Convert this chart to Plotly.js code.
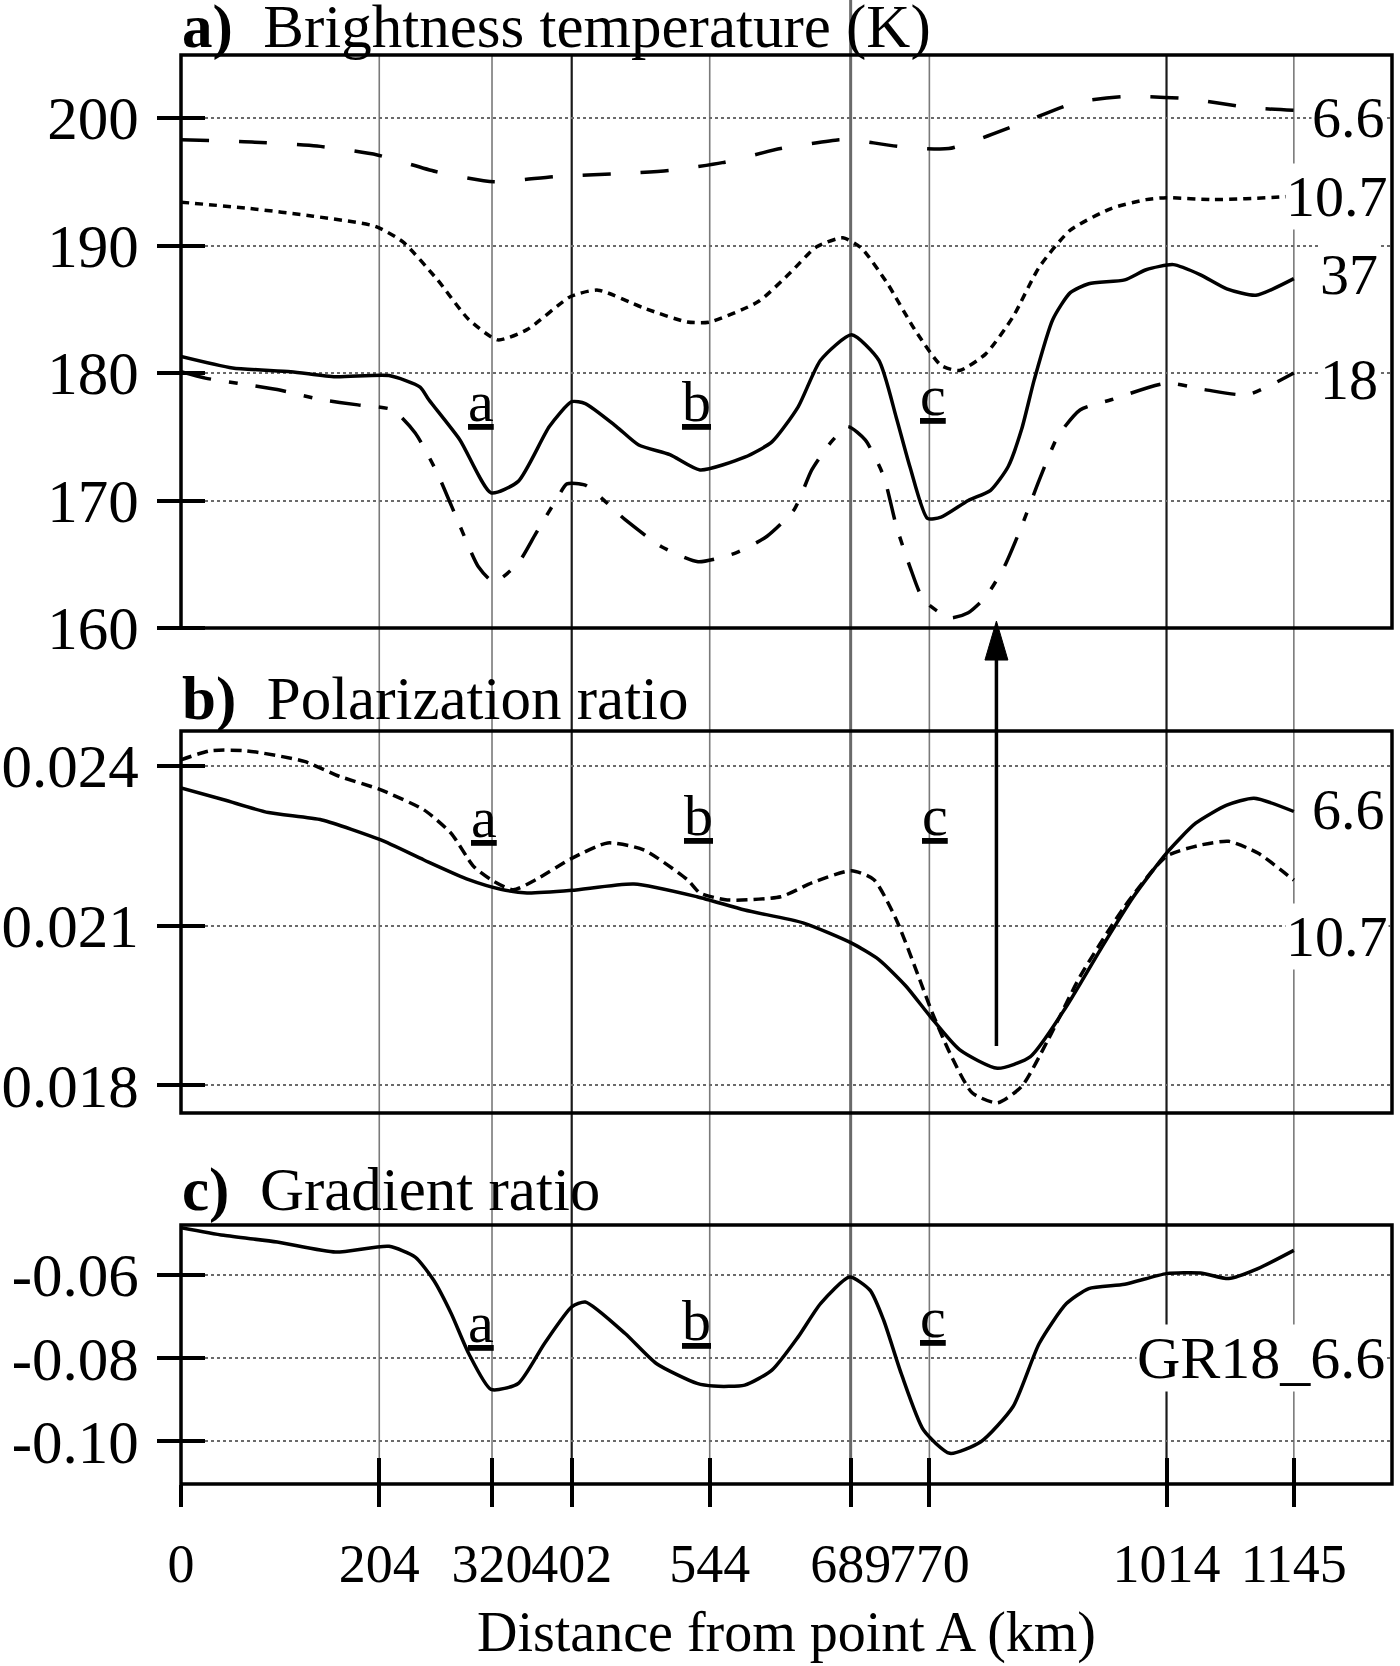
<!DOCTYPE html>
<html>
<head>
<meta charset="utf-8">
<script src="https://cdn.plot.ly/plotly-3.0.1.min.js"></script>
<style>html,body{margin:0;padding:0;background:#fff;}#chart{width:1400px;height:1666px;}</style>
</head>
<body>
<div id="chart"></div>
<script>
// ---------------- DATA ----------------
const KM_TICKS = [0, 204, 320, 402, 544, 689, 770, 1014, 1145];
const KM_TICK_TEXT = ['0', '204', '320', '402', '544', '689', '770', '1014', '1145'];
const MARK_KM = [204, 320, 402, 544, 689, 770, 1014, 1145];

// a) Brightness temperature (K)
const TB66_X = [0, 76, 140, 202, 262, 322, 384, 466, 503, 557, 617, 677, 689, 741, 790, 860, 920, 975, 1037, 1101, 1145];
const TB66 = [198.3, 198.1, 197.8, 197.1, 195.8, 195.0, 195.4, 195.7, 195.9, 196.5, 197.6, 198.3, 198.3, 197.75, 197.6, 199.45, 201.2, 201.7, 201.5, 200.8, 200.6];

const TB107_X = [0, 71, 136, 200, 228, 264, 296, 326, 356, 401, 429, 476, 521, 544, 594, 626, 654, 681, 700, 727, 755, 782, 801, 828, 856, 883, 915, 957, 993, 1014, 1062, 1131, 1145];
const TB107 = [193.4, 192.9, 192.3, 191.5, 190.3, 187.3, 184.2, 182.6, 183.4, 186.0, 186.5, 185.1, 184.0, 184.0, 185.6, 187.8, 189.9, 190.6, 189.8, 187.0, 183.4, 180.6, 180.2, 181.5, 184.4, 188.3, 191.2, 192.9, 193.6, 193.75, 193.6, 193.8, 193.9];

const TB37_X = [0, 53, 113, 159, 214, 246, 255, 287, 319, 347, 379, 402, 416, 448, 471, 503, 534, 580, 608, 635, 658, 690, 718, 736, 750, 768, 782, 810, 833, 851, 865, 878, 897, 915, 934, 971, 993, 1021, 1049, 1076, 1106, 1145];
const TB37 = [181.3, 180.4, 180.1, 179.7, 179.8, 178.9, 177.9, 174.75, 170.6, 171.5, 175.8, 177.75, 177.6, 175.8, 174.35, 173.6, 172.4, 173.4, 174.6, 177.35, 181.0, 183.0, 181.0, 176.5, 172.65, 168.6, 168.7, 170.0, 170.8, 172.65, 175.6, 179.5, 184.2, 186.3, 187.0, 187.3, 188.1, 188.5, 187.7, 186.6, 186.1, 187.4];

const TB18_X = [0, 25, 58, 99, 145, 182, 218, 241, 264, 287, 306, 322, 347, 365, 388, 397, 416, 457, 494, 532, 571, 603, 631, 649, 668, 686, 704, 723, 736, 750, 764, 791, 810, 828, 847, 865, 883, 902, 925, 957, 1014, 1053, 1097, 1145];
const TB18 = [180.1, 179.6, 179.2, 178.7, 177.9, 177.5, 177.1, 175.3, 172.1, 168.0, 164.8, 163.6, 165.1, 167.4, 170.3, 171.3, 171.2, 168.5, 166.4, 165.2, 165.9, 167.2, 169.3, 172.4, 174.5, 175.8, 174.75, 171.9, 168.0, 164.8, 162.2, 160.8, 161.2, 162.45, 164.8, 168.0, 171.6, 175.0, 177.1, 177.9, 179.2, 178.7, 178.3, 180.0];

// b) Polarization ratio
const PR66_X = [0, 44, 90, 145, 205, 250, 296, 329, 356, 402, 466, 531, 580, 640, 690, 718, 746, 771, 801, 840, 874, 911, 948, 980, 1014, 1044, 1076, 1104, 1145];
const PR66 = [0.02358, 0.02336, 0.02312, 0.02298, 0.02261, 0.02223, 0.02186, 0.02168, 0.02161, 0.02166, 0.02178, 0.02154, 0.02129, 0.02105, 0.02067, 0.02036, 0.01986, 0.01929, 0.01867, 0.01832, 0.01854, 0.01948, 0.02061, 0.02154, 0.02236, 0.02292, 0.02326, 0.02339, 0.02314];

const PR107_X = [0, 30, 67, 127, 163, 205, 250, 278, 301, 319, 342, 365, 402, 439, 476, 521, 534, 562, 617, 649, 690, 713, 736, 755, 773, 791, 814, 840, 865, 892, 925, 971, 1014, 1049, 1078, 1108, 1145];
const PR107 = [0.02411, 0.02428, 0.02428, 0.02408, 0.0238, 0.02355, 0.02317, 0.02273, 0.02211, 0.02186, 0.02167, 0.02186, 0.02226, 0.02255, 0.02242, 0.02186, 0.02161, 0.02148, 0.02154, 0.0218, 0.02203, 0.02186, 0.02111, 0.02023, 0.01936, 0.01861, 0.01786, 0.01767, 0.01798, 0.01885, 0.02004, 0.02136, 0.0223, 0.02251, 0.02258, 0.02236, 0.02185];

// c) Gradient ratio GR18_6.6
const GR_X = [0, 44, 99, 159, 214, 241, 260, 278, 296, 319, 347, 374, 402, 416, 457, 489, 531, 548, 580, 608, 635, 658, 688, 709, 723, 741, 764, 791, 823, 856, 883, 911, 934, 971, 1014, 1049, 1078, 1108, 1145];
const GR = [-0.04866, -0.0505, -0.05211, -0.05451, -0.05314, -0.05571, -0.0613, -0.06928, -0.07887, -0.0875, -0.08607, -0.07648, -0.0677, -0.0665, -0.07408, -0.08127, -0.08607, -0.08671, -0.08647, -0.08288, -0.07489, -0.06689, -0.0605, -0.06369, -0.07089, -0.08367, -0.09727, -0.10285, -0.10007, -0.09168, -0.07648, -0.06689, -0.06329, -0.06225, -0.05969, -0.05954, -0.06089, -0.05849, -0.0541];

const TA_TICKS = [160, 170, 180, 190, 200];
const PR_TICKS = [0.018, 0.021, 0.024];
const PR_TICK_TEXT = ['0.018', '0.021', '0.024'];
const GR_TICKS = [-0.10, -0.08, -0.06];
const GR_TICK_TEXT = ['-0.10', '-0.08', '-0.06'];

const ARROW_KM = 839;  // polarization-ratio minimum, arrow position

// ---------------- STYLE ----------------
const FONT = 'Liberation Serif, Times New Roman, serif';
const FS_TITLE = 61, FS_YTICK = 61, FS_XTICK = 54, FS_LBL = 58, FS_AXT = 56;
const LW = 3.5;
const GRID = '#6a6a6a';
const dom = {a: [0.599, 1], b: [0.2596, 0.5269], c: [0, 0.1812]};
const RANGE = {x: [0, 1246], a: [160, 204.94], b: [0.01748, 0.02465], c: [-0.11022, -0.04803]};
const YAX_POS = 24 / 1211.4;   // y axes shifted right so 48px outside ticks cross the frame

function line(x, y, yaxis, dash) {
  return {type: 'scatter', mode: 'lines', x: x, y: y, xaxis: 'x', yaxis: yaxis,
    line: {color: '#000', width: LW, dash: dash, shape: 'spline', smoothing: 0.6},
    hoverinfo: 'skip', showlegend: false};
}
function holder(xa, ya) {
  return {type: 'scatter', mode: 'lines', x: [], y: [], xaxis: xa, yaxis: ya, hoverinfo: 'skip', showlegend: false};
}

const traces = [
  line(TB66_X, TB66, 'y', '28px,30px'),
  line(TB107_X, TB107, 'y', '8px,6px'),
  line(TB37_X, TB37, 'y', 'solid'),
  line(TB18_X, TB18, 'y', '31px,18px,9px,18px'),
  line(PR66_X, PR66, 'y2', 'solid'),
  line(PR107_X, PR107, 'y2', '11px,6px'),
  line(GR_X, GR, 'y3', 'solid'),
  holder('x2', 'y3')
];

function yax(domain, range, tv, tt) {
  const o = {domain: domain, range: range, anchor: 'free', position: YAX_POS, tickmode: 'array', tickvals: tv,
    ticks: 'outside', ticklen: 48, tickwidth: 4, tickcolor: '#000',
    showgrid: true, gridcolor: GRID, gridwidth: 2, griddash: 'dot',
    zeroline: false, showline: false, ticklabelstandoff: 6,
    tickfont: {family: FONT, size: FS_YTICK, color: '#000'}, fixedrange: true};
  if (tt) o.ticktext = tt;
  return o;
}

const shapes = [];
// panel frames
['y', 'y2', 'y3'].forEach(function (ya) {
  shapes.push({type: 'rect', xref: 'paper', yref: ya + ' domain', x0: 0, x1: 1, y0: 0, y1: 1,
    line: {color: '#000', width: LW}, fillcolor: 'rgba(0,0,0,0)', layer: 'above'});
});
// vertical reference lines
const VSTYLE = {204: ['#7a7a7a', 1.6], 320: ['#7a7a7a', 1.6], 402: ['#1a1a1a', 2.2], 544: ['#7a7a7a', 1.6],
  689: ['#6a6a6a', 3], 770: ['#7a7a7a', 1.6], 1014: ['#1a1a1a', 2.2], 1145: ['#7a7a7a', 1.6]};
MARK_KM.forEach(function (k) {
  shapes.push({type: 'line', xref: 'x', yref: 'paper', x0: k, x1: k, y0: 0, y1: k === 689 ? 1.0385 : 1,
    line: {color: VSTYLE[k][0], width: VSTYLE[k][1]}, layer: 'below'});
});
// arrow (shaft + head), paper y for vertical position
shapes.push({type: 'line', xref: 'x', yref: 'paper', x0: ARROW_KM, x1: ARROW_KM, y0: 0.3065, y1: 0.58,
  line: {color: '#000', width: LW}, layer: 'above'});
shapes.push({type: 'path', xref: 'x', yref: 'paper',
  path: 'M ' + ARROW_KM + ' 0.6039 L ' + (ARROW_KM + 11.8) + ' 0.5766 L ' + (ARROW_KM - 11.8) + ' 0.5766 Z',
  fillcolor: '#000', line: {color: '#000', width: 1}, layer: 'above'});

const annotations = [];
function txt(text, x, y, xref, yref, xanchor, bg, size) {
  annotations.push({text: text, x: x, y: y, xref: xref, yref: yref, xanchor: xanchor, yanchor: 'middle',
    showarrow: false, font: {family: FONT, size: size, color: '#000'},
    bgcolor: bg ? '#fff' : 'rgba(0,0,0,0)', borderpad: 0});
}
const SP = '\u00a0\u00a0';
txt('<b>a)</b>' + SP + 'Brightness temperature (K)', 0, 1.0195, 'paper', 'paper', 'left', false, FS_TITLE);
txt('<b>b)</b>' + SP + 'Polarization ratio', 0, 0.5493, 'paper', 'paper', 'left', false, FS_TITLE);
txt('<b>c)</b>' + SP + 'Gradient ratio', 0, 0.2059, 'paper', 'paper', 'left', false, FS_TITLE);
// series labels
txt('6.6', 0.995, 200, 'paper', 'y', 'right', true, FS_LBL);
txt('10.7', 0.9975, 193.84, 'paper', 'y', 'right', true, FS_LBL);
txt('37', 0.989, 187.76, 'paper', 'y', 'right', true, FS_LBL);
txt('18', 0.989, 179.5, 'paper', 'y', 'right', true, FS_LBL);
txt('6.6', 0.995, 0.02318, 'paper', 'y2', 'right', true, FS_LBL);
txt('10.7', 0.9975, 0.02079, 'paper', 'y2', 'right', true, FS_LBL);
txt('GR18_6.6', 0.995, -0.07988, 'paper', 'y3', 'right', true, 60);
// feature letters
const U = function (s) { return '<span style="text-decoration:underline">' + s + '</span>'; };
[['a', 309, 177.76, 'y'], ['b', 530, 177.76, 'y'], ['c', 773.5, 178.27, 'y'],
 ['a', 312, 0.02302, 'y2'], ['b', 532, 0.02306, 'y2'], ['c', 776, 0.02306, 'y2'],
 ['a', 309, -0.07149, 'y3'], ['b', 530, -0.07089, 'y3'], ['c', 773.5, -0.07017, 'y3']
].forEach(function (d) { txt(U(d[0]), d[1], d[2], 'x', d[3], 'center', false, FS_LBL); });
// x-axis title
txt('Distance from point A (km)', 0.5, -0.1036, 'paper', 'paper', 'center', false, FS_AXT);

const layout = {
  width: 1400, height: 1666,
  margin: {l: 180.6, r: 8, t: 55, b: 182},
  paper_bgcolor: '#fff', plot_bgcolor: 'rgba(0,0,0,0)',
  showlegend: false,
  font: {family: FONT, size: 56, color: '#000'},
  xaxis: {domain: [0, 1], range: RANGE.x, anchor: 'y3', tickmode: 'array', tickvals: KM_TICKS, ticktext: KM_TICK_TEXT,
    ticks: 'outside', ticklen: 22, tickwidth: 4, tickcolor: '#000', tickangle: 0, ticklabelstandoff: 10,
    showgrid: false, zeroline: false, showline: false, fixedrange: true,
    tickfont: {family: FONT, size: FS_XTICK, color: '#000'}},
  xaxis2: {overlaying: 'x', range: RANGE.x, anchor: 'y3', tickmode: 'array', tickvals: KM_TICKS,
    ticks: 'inside', ticklen: 26, tickwidth: 4, tickcolor: '#000', showticklabels: false,
    showgrid: false, zeroline: false, showline: false, side: 'bottom', fixedrange: true},
  yaxis: yax(dom.a, RANGE.a, TA_TICKS, null),
  yaxis2: yax(dom.b, RANGE.b, PR_TICKS, PR_TICK_TEXT),
  yaxis3: yax(dom.c, RANGE.c, GR_TICKS, GR_TICK_TEXT),
  shapes: shapes,
  annotations: annotations
};

Plotly.newPlot('chart', traces, layout, {displayModeBar: false, staticPlot: true});
</script>
</body>
</html>
